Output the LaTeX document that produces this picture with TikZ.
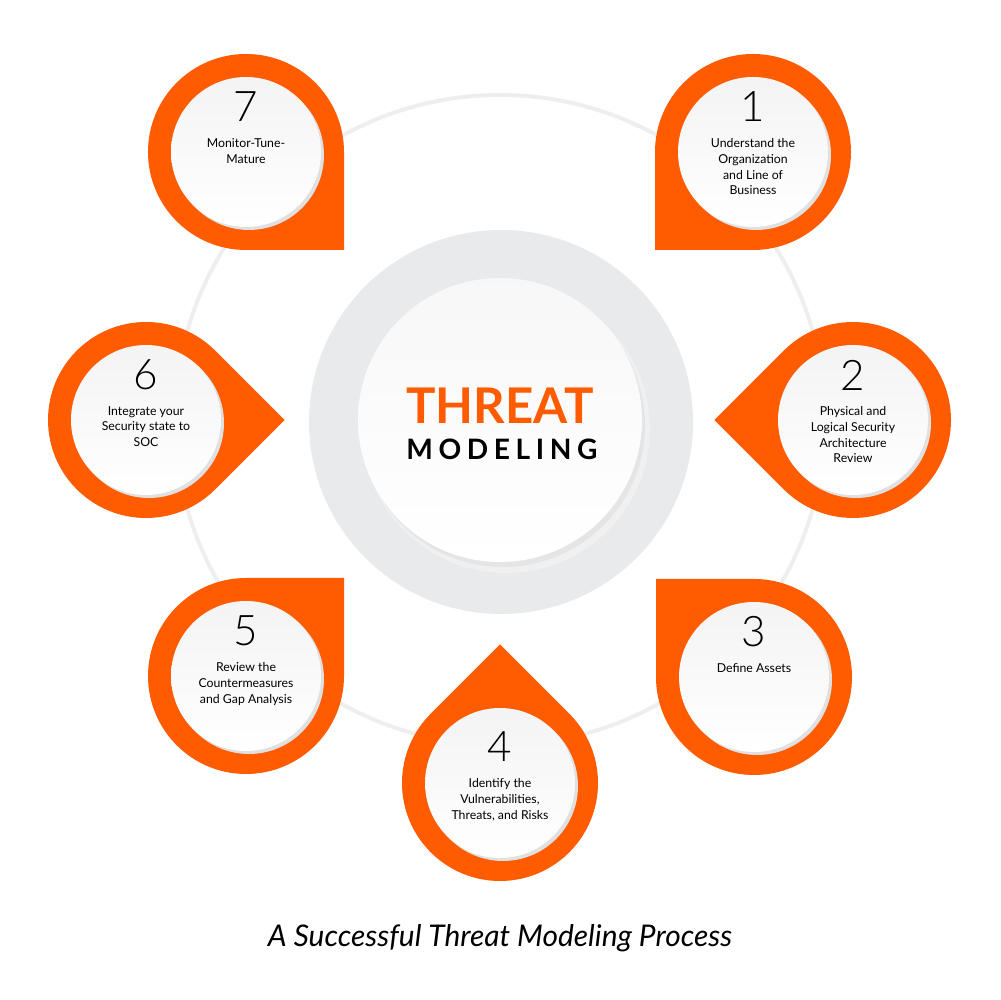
\documentclass[tikz,border=0pt]{standalone}
\usepackage{fontspec}
\setmainfont{Lato}
\newfontfamily\numfont{Lato Light}
\usetikzlibrary{calc}
\definecolor{pinorange}{RGB}{255,91,0}
\definecolor{ringgray}{RGB}{238,238,238}
\definecolor{hubgray}{RGB}{233,234,236}

\begin{document}
\begin{tikzpicture}[
  x=0.02cm, y=0.02cm,
  pinbody/.style={fill=pinorange},
  pinface/.style={top color=gray!9, bottom color=white},
  pinshade/.style={fill=black!12},
  numlabel/.style={font=\numfont\fontsize{24}{24}\selectfont, inner sep=0pt},
  steplabel/.style={font=\fontsize{7}{9}\selectfont, align=center, inner sep=0pt, anchor=north}
]
\useasboundingbox (0,0) rectangle (1000,1000);
% guide ring
\draw[ringgray, line width=2.3pt] (500,580) circle[radius=325];
% hub
\fill[hubgray] (501,578) circle[radius=192];
\fill[black!6] (506,571) circle[radius=144];
\fill[black!10] (503,575) circle[radius=142];
\shade[top color=gray!6, bottom color=white] (500,580) circle[radius=142];
\node[font=\bfseries\fontsize{28}{28}\selectfont, text=pinorange] (threat) at (500,594) {THREAT};
\node[font=\bfseries\fontsize{16}{16}\selectfont\addfontfeatures{LetterSpace=20}] (modeling) at (502,551) {MODELING};
% pins
\foreach \n/\px/\py/\ang/\dy/\txt in {
  1/753/848/225/0/{Understand the\\Organization\\and Line of\\Business},
  2/853/580/180/0/{Physical and\\Logical Security\\Architecture\\Review},
  3/754/323/135/0/{Define Assets},
  4/500/217/90/-9/{Identify the\\Vulnerabilities,\\Threats, and Risks},
  5/246/324/45/0/{Review the\\Countermeasures\\and Gap Analysis},
  6/146/580/0/0/{Integrate your\\Security state to\\SOC},
  7/246/848/315/0/{Monitor-Tune-\\Mature}}{
  \pgfmathsetmacro\sa{\ang+45}
  \coordinate (pin\n) at (\px,\py);
  \fill[pinbody] ($(pin\n)+(\ang:138.6)$) -- ($(pin\n)+(\sa:98)$)
    arc[start angle=\sa, delta angle=270, radius=98] -- cycle;
  \fill[pinshade] ($(pin\n)+(3,-3)$) circle[radius=75];
  \shade[pinface] (pin\n) circle[radius=75];
  \node[numlabel] (num\n) at ($(pin\n)+(0,45+\dy)$) {\n};
  \node[steplabel] (txt\n) at ($(pin\n)+(0,14+\dy)$) {\txt};
}
\node[font=\itshape\fontsize{17}{17}\selectfont] (caption) at (500,62) {A Successful Threat Modeling Process};
\end{tikzpicture}
\end{document}
